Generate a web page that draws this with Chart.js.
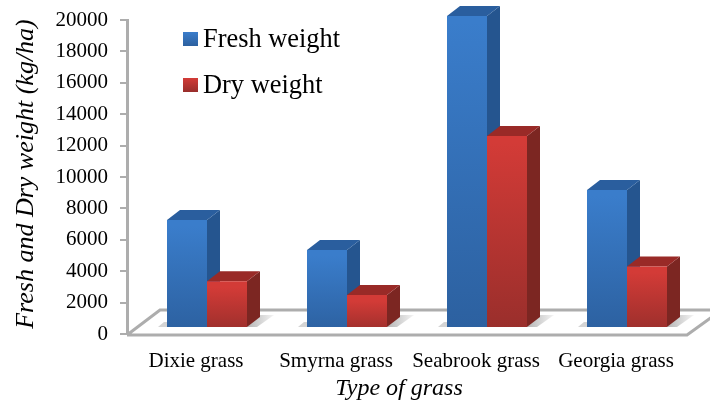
<!DOCTYPE html>
<html>
<head>
<meta charset="utf-8">
<script src="https://cdn.jsdelivr.net/npm/chart.js@4"></script>
<style>
  html, body { margin: 0; padding: 0; background: #fff; }
  canvas { display: block; }
</style>
</head>
<body>
<canvas id="grassChart" width="710" height="401"></canvas>
<script>
const categories = ["Dixie grass", "Smyrna grass", "Seabrook grass", "Georgia grass"];
const freshWeight = [6880, 4970, 19870, 8790];
const dryWeight = [2970, 2100, 12230, 3920];
const xTitle = "Type of grass";
const yTitle = "Fresh and Dry weight (kg/ha)";

const serif = "'Liberation Serif', 'Times New Roman', serif";
const greyLine = "#adadad";
const blue = { top: "#3a7dcb", bottom: "#2c609f", side: "#25558f", cap: "#2a5e9e" };
const red = { top: "#d33b37", bottom: "#982e2b", side: "#7c2622", cap: "#992a27" };
const palette = [blue, red];

// front faces sit a little inside the floor, side faces go back from them
const faceShift = { x: 10, y: -6 };
const barDepth = { x: 13, y: -10 };
const floorDepth = { x: 33, y: -24 };

function poly(ctx, pts, fill) {
    ctx.beginPath();
    pts.forEach((p, i) => i ? ctx.lineTo(p[0], p[1]) : ctx.moveTo(p[0], p[1]));
    ctx.closePath();
    ctx.fillStyle = fill;
    ctx.fill();
}

function faceGradient(context, colors) {
    const chart = context.chart;
    if (!chart.chartArea || context.raw === undefined) return colors.top;
    const scale = chart.scales.y;
    const g = chart.ctx.createLinearGradient(0, scale.getPixelForValue(context.raw), 0, scale.getPixelForValue(0));
    g.addColorStop(0, colors.top);
    g.addColorStop(1, colors.bottom);
    return g;
}

const bars3d = {
    id: "bars3d",
    afterDatasetsUpdate(chart) {
        chart.data.datasets.forEach((d, i) => {
            chart.getDatasetMeta(i).data.forEach(el => {
                el.x += faceShift.x;
                el.y += faceShift.y;
                el.base += faceShift.y;
            });
        });
    },
    beforeDatasetsDraw(chart) {
        const { ctx, chartArea: a } = chart;
        ctx.save();
        // floor shadows, to the right of each pair of bars
        const dry = chart.getDatasetMeta(1).data;
        const fresh = chart.getDatasetMeta(0).data;
        dry.forEach((el, i) => {
            const r = el.x + el.width / 2;
            const l = fresh[i].x - fresh[i].width / 2;
            const sg = ctx.createLinearGradient(r, 0, r + 26, 0);
            sg.addColorStop(0, "#b5b5b5");
            sg.addColorStop(1, "#f2f2f2");
            poly(ctx, [[r, el.base], [r + 10, el.base], [r + 27, el.base - 12], [r + 13, el.base - 12]], sg);
            poly(ctx, [[l - 9, el.base], [l, el.base], [l, el.base - 5], [l - 3, el.base - 5]], "#d4d4d4");
        });
        // floor outline
        ctx.strokeStyle = greyLine;
        ctx.lineWidth = 3;
        ctx.beginPath();
        ctx.moveTo(a.left, a.bottom + 1);
        ctx.lineTo(a.left + floorDepth.x, a.bottom + floorDepth.y);
        ctx.lineTo(chart.width + 5, a.bottom + floorDepth.y);
        ctx.moveTo(a.left, a.bottom + 1);
        ctx.lineTo(a.right, a.bottom + 1);
        ctx.lineTo(a.right + floorDepth.x, a.bottom + 1 + floorDepth.y);
        ctx.stroke();
        // side and top faces of both series go under all the front faces
        [0, 1].forEach(index => {
            const colors = palette[index];
            chart.getDatasetMeta(index).data.forEach(el => {
                const left = el.x - el.width / 2;
                const right = el.x + el.width / 2;
                const dx = barDepth.x;
                const dy = barDepth.y;
                poly(ctx, [[right, el.y], [right + dx, el.y + dy], [right + dx, el.base + dy], [right, el.base]], colors.side);
                poly(ctx, [[left, el.y], [left + dx, el.y + dy], [right + dx, el.y + dy], [right, el.y]], colors.cap);
            });
        });
        ctx.restore();
    },
    afterDraw(chart) {
        const { ctx } = chart;
        const rows = [39, 85];
        ctx.save();
        ctx.font = "26.4px " + serif;
        ctx.textBaseline = "middle";
        chart.data.datasets.forEach((d, i) => {
            const g = ctx.createLinearGradient(0, rows[i] - 7, 0, rows[i] + 7);
            g.addColorStop(0, palette[i].top);
            g.addColorStop(1, palette[i].bottom);
            ctx.fillStyle = g;
            ctx.fillRect(183, rows[i] - 7, 15, 14);
            ctx.fillStyle = "#000";
            ctx.fillText(d.label, 203, rows[i] + 1);
        });
        // axis titles sit off-centre in the reference, so they are placed here
        ctx.textBaseline = "alphabetic";
        ctx.textAlign = "center";
        ctx.font = "italic 24px " + serif;
        ctx.fillText(xTitle, 399, 395);
        ctx.translate(33, 174);
        ctx.rotate(-Math.PI / 2);
        ctx.font = "italic 26px " + serif;
        ctx.fillText(yTitle, 0, 0);
        ctx.restore();
    }
};

new Chart(document.getElementById("grassChart").getContext("2d"), {
    type: "bar",
    data: {
        labels: categories,
        datasets: [
            { label: "Fresh weight", data: freshWeight, backgroundColor: c => faceGradient(c, blue) },
            { label: "Dry weight", data: dryWeight, backgroundColor: c => faceGradient(c, red) }
        ]
    },
    options: {
        responsive: false,
        animation: false,
        clip: false,
        categoryPercentage: 80 / 140,
        barPercentage: 1,
        layout: { padding: { top: 20, right: 23, left: 0, bottom: 0 } },
        plugins: {
            legend: { display: false },
            tooltip: { enabled: false }
        },
        scales: {
            x: {
                grid: { display: false },
                border: { display: false },
                afterFit: s => {
                    s.height = 67;
                    s.paddingLeft = 0;
                    s.paddingRight = 0;
                },
                ticks: { padding: 7, labelOffset: -1, color: "#000", maxRotation: 0, autoSkip: false, font: { family: serif, size: 21 } }
            },
            y: {
                min: 0,
                max: 20000,
                afterFit: s => {
                    s.width = 127;
                    s.paddingTop = 0;
                    s.paddingBottom = 0;
                },
                border: { color: greyLine, width: 3 },
                grid: { drawOnChartArea: false, color: greyLine, tickLength: 7, lineWidth: 2 },
                ticks: {
                    stepSize: 2000,
                    padding: 12,
                    color: "#000",
                    font: { family: serif, size: 21 },
                    callback: v => String(v)
                }
            }
        }
    },
    plugins: [bars3d]
});
</script>
</body>
</html>
